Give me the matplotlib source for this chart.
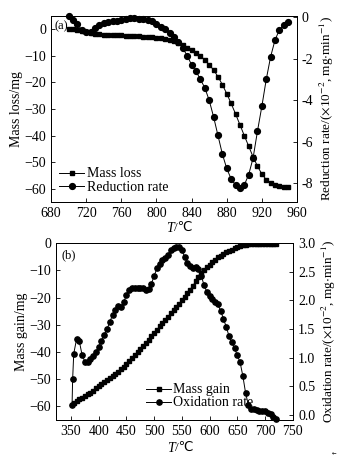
import matplotlib
matplotlib.use('Agg')
import matplotlib.pyplot as plt
import numpy as np

plt.rcParams['font.family'] = ['Liberation Serif', 'DejaVu Sans']
plt.rcParams['mathtext.fontset'] = 'stix'
plt.rcParams['axes.unicode_minus'] = True

# (a) reduction: mass loss and reduction rate, T from 700 to 950 every 5 C
temp_a = list(range(700, 951, 5))
mass_loss = [0, 0, -0.3, -0.7, -1.2, -1.5, -1.8, -1.9, -2.0, -2.2,
             -2.0, -2.2, -2.3, -2.4, -2.5, -2.6, -2.7, -2.8, -2.9, -3.0,
             -3.1, -3.3, -3.6, -3.9, -4.4, -5.0, -6.0, -7.0, -7.8, -8.8,
             -10.0, -11.5, -13.3, -15.3, -17.8, -20.8, -24.2, -27.9, -31.8, -35.9,
             -40.0, -44.0, -48.0, -51.5, -54.5, -56.6, -57.9, -58.6, -59.0, -59.2,
             -59.3]
reduction_rate = [0.05, -0.13, -0.35, -0.6, -0.72, -0.70, -0.5, -0.36, -0.27, -0.21,
                  -0.17, -0.16, -0.13, -0.1, -0.06, -0.06, -0.08, -0.1, -0.13, -0.2,
                  -0.32, -0.45, -0.58, -0.75, -0.95, -1.2, -1.5, -1.85, -2.3, -2.6,
                  -3.0, -3.4, -4.0, -4.8, -5.7, -6.6, -7.3, -7.8, -8.1, -8.25,
                  -8.1, -7.6, -6.8, -5.5, -4.3, -3.0, -1.9, -1.1, -0.6, -0.38,
                  -0.25]

# (b) oxidation: mass gain and oxidation rate
temp_b = list(range(355, 721, 5))
mass_gain = [-58.8, -57.9, -57.3, -56.8, -56.2, -55.6, -54.9, -54.2, -53.4, -52.6,
             -51.8, -51.0, -50.3, -49.6, -48.9, -48.2, -47.3, -46.4, -45.4, -44.3,
             -43.3, -42.2, -41.1, -40.0, -38.9, -37.7, -36.6, -35.4, -34.2, -33.0,
             -31.8, -30.6, -29.4, -28.2, -27.0, -25.8, -24.7, -23.5, -22.3, -21.0,
             -19.7, -18.4, -17.0, -15.6, -14.0, -12.5, -11.1, -9.8, -8.7, -7.8,
             -6.9, -6.0, -5.2, -4.5, -3.9, -3.3, -2.8, -2.3, -1.8, -1.4,
             -1.0, -0.7, -0.5, -0.3, -0.2, -0.1, -0.1, -0.1, -0.1, -0.1,
             -0.1, -0.1, -0.1, -0.1]
temp_ox = [352, 353, 355, 360, 365, 370, 375, 380, 385, 390, 395,
           400, 405, 410, 415, 420, 425, 430, 435, 440, 445,
           450, 455, 460, 465, 470, 475, 480, 485, 490, 495,
           500, 505, 510, 515, 520, 525, 530, 535, 540, 545,
           550, 555, 560, 565, 570, 575, 580, 585, 590, 595,
           600, 605, 610, 615, 620, 625, 630, 635, 640, 645,
           650, 655, 660, 665, 670, 675, 680, 685, 690, 695,
           700, 705, 710, 715, 720]
oxidation_rate = [0.18, 0.62, 1.07, 1.32, 1.29, 1.05, 0.93, 0.92, 0.97, 1.03, 1.10,
                  1.19, 1.29, 1.40, 1.50, 1.62, 1.75, 1.83, 1.90, 1.89, 1.97,
                  2.09, 2.18, 2.22, 2.22, 2.22, 2.22, 2.21, 2.19, 2.20, 2.29,
                  2.43, 2.56, 2.64, 2.70, 2.74, 2.80, 2.88, 2.92, 2.94, 2.93,
                  2.89, 2.76, 2.66, 2.60, 2.57, 2.59, 2.55, 2.43, 2.27, 2.15,
                  2.08, 2.03, 1.97, 1.93, 1.82, 1.68, 1.54, 1.38, 1.27, 1.17,
                  1.04, 0.92, 0.68, 0.38, 0.17, 0.11, 0.10, 0.08, 0.07, 0.06,
                  0.06, 0.03, 0.02, -0.03, -0.07]

W, H = 339, 461
fig = plt.figure(figsize=(W / 100, H / 100), dpi=100)


def ax_at(l, t, r, b):
    return fig.add_axes([l / W, 1 - b / H, (r - l) / W, (b - t) / H])


def style(ax):
    ax.tick_params(direction='in', labelsize=10, length=3, width=0.6, pad=3.5)
    for s in ax.spines.values():
        s.set_linewidth(0.7)


def t_label(ax, y):
    # italic T followed by /℃ (mathtext fonts have no ℃ glyph)
    ax.text(0.5, y, 'T', style='italic', fontsize=10, ha='right', va='top',
            transform=ax.transAxes)
    ax.text(0.5, y, '/℃', fontsize=9.5, ha='left', va='top',
            transform=ax.transAxes)


# ---- (a)
ax1 = ax_at(51, 16, 297, 202)
ax1r = ax1.twinx()
l1, = ax1.plot(temp_a, mass_loss, color='black', lw=0.7, marker='s', ms=3.2,
               label='Mass loss')
l2, = ax1r.plot(temp_a, reduction_rate, color='black', lw=0.7, marker='o', ms=4.2,
                label='Reduction rate', clip_on=False)
ax1.set_xlim(680, 960)
ax1.set_ylim(-65, 5)
ax1.set_xticks(range(680, 961, 40))
ax1.set_yticks(range(-60, 1, 10))
ax1r.set_ylim(-8.92, 0.06)
ax1r.set_yticks([0, -2, -4, -6, -8])
ax1r.set_yticklabels(['0', '-2', '-4', '-6', '-8'])
style(ax1)
style(ax1r)
t_label(ax1, -0.105)
ax1.set_ylabel('Mass loss/mg', fontsize=10, labelpad=1)
ax1r.set_ylabel('Reduction rate/($\\times$10$^{-2}$, mg$\\cdot$min$^{-1}$)',
                fontsize=9.5, labelpad=3)
ax1.text(0.015, 0.975, '(a)', transform=ax1.transAxes, fontsize=9,
         va='top', ha='left')
ax1.legend(handles=[l1, l2], loc='lower left', frameon=False, fontsize=10,
           handlelength=1.8, handletextpad=0.15, labelspacing=0.05,
           borderaxespad=0.3, numpoints=1, bbox_to_anchor=(-0.005, -0.01))

# ---- (b)
ax2 = ax_at(56, 243.3, 293.3, 420)
ax2r = ax2.twinx()
l3, = ax2.plot(temp_b, mass_gain, color='black', lw=0.7, marker='s', ms=2.9,
               label='Mass gain')
l4, = ax2r.plot(temp_ox, oxidation_rate, color='black', lw=0.7, marker='o',
                ms=3.8, label='Oxidation rate', clip_on=False)
ax2.set_xlim(323, 751)
ax2.set_ylim(-65, 0)
ax2.set_xticks(range(350, 751, 50))
ax2.set_yticks(range(-60, 1, 10))
ax2r.set_ylim(-0.09, 3.0)
ax2r.set_yticks(np.arange(0, 3.01, 0.5))
ax2r.set_yticklabels(['0.0', '0.5', '1.0', '1.5', '2.0', '2.5', '3.0'])
style(ax2)
style(ax2r)
t_label(ax2, -0.125)
ax2.set_ylabel('Mass gain/mg', fontsize=10, labelpad=1)
ax2r.set_ylabel('Oxidation rate/($\\times$10$^{-2}$, mg$\\cdot$min$^{-1}$)',
                fontsize=9.5, labelpad=3)
ax2.text(0.025, 0.965, '(b)', transform=ax2.transAxes, fontsize=9,
         va='top', ha='left')
ax2.legend(handles=[l3, l4], loc='lower left', frameon=False, fontsize=10,
           handlelength=1.8, handletextpad=0.15, labelspacing=0.0,
           borderaxespad=0.3, numpoints=1, bbox_to_anchor=(0.34, 0.005))

fig.text(334 / W, 1 - 453 / H, '←', fontsize=4, ha='center', va='center',
         family='DejaVu Sans')

fig.savefig('out.png', dpi=100)
